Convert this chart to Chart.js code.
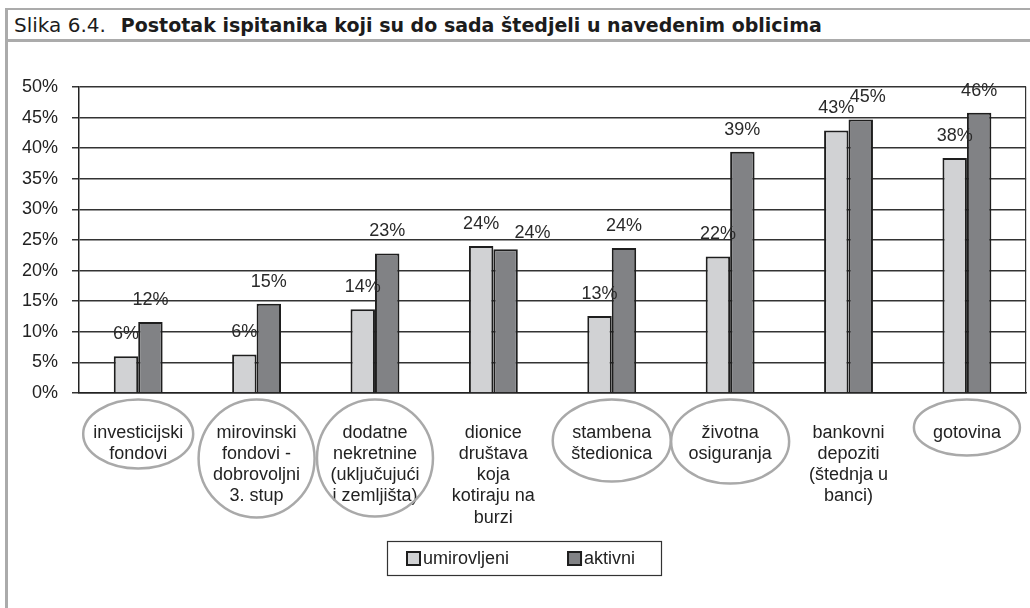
<!DOCTYPE html>
<html>
<head>
<meta charset="utf-8">
<title>Slika 6.4.</title>
<script src="https://cdn.jsdelivr.net/npm/chart.js@4.4.1/dist/chart.umd.min.js"></script>
<style>
  html, body { margin: 0; padding: 0; background: #fff; }
  body { width: 1030px; height: 608px; position: relative; overflow: hidden; }
  .rule { position: absolute; background: #ababab; }
  #title { position: absolute; left: 14px; top: 12px; height: 29px; line-height: 29px; white-space: nowrap; color: #1c1c1c; }
  #title .num { font: 20px "DejaVu Sans", sans-serif; }
  #title b { font: bold 19px "DejaVu Sans", sans-serif; margin-left: 15px; }
  #chart { position: absolute; left: 8px; top: 42px; }
</style>
</head>
<body>
<div class="rule" style="left:5px; top:8px; width:1025px; height:2px;"></div>
<div class="rule" style="left:5px; top:8px; width:3px; height:600px;"></div>
<div class="rule" style="left:5px; top:39px; width:1025px; height:3px;"></div>
<div id="title"><span class="num">Slika 6.4.</span><b>Postotak ispitanika koji su do sada štedjeli u navedenim oblicima</b></div>
<canvas id="chart" width="1022" height="566"></canvas>

<script>
// categories (multi-line labels as in the original)
const categories = [
  ['investicijski', 'fondovi'],
  ['mirovinski', 'fondovi -', 'dobrovoljni', '3. stup'],
  ['dodatne', 'nekretnine', '(uključujući', 'i zemljišta)'],
  ['dionice', 'društava', 'koja', 'kotiraju na', 'burzi'],
  ['stambena', 'štedionica'],
  ['životna', 'osiguranja'],
  ['bankovni', 'depoziti', '(štednja u', 'banci)'],
  ['gotovina']
];

const seriesNames = ['umirovljeni', 'aktivni'];

// percentages
const umirovljeni = [6.0, 6.3, 13.7, 24.0, 12.6, 22.3, 42.9, 38.4];
const aktivni = [11.6, 14.6, 22.8, 23.5, 23.7, 39.4, 44.7, 45.8];

const yMin = 0;
const yMax = 50;
const yStep = 5;

// which category labels are circled in the original (ellipse radii)
const circled = [
  { index: 0, rx: 55, ry: 34.5 },
  { index: 1, rx: 58, ry: 59 },
  { index: 2, rx: 58, ry: 58.5 },
  { index: 4, rx: 59, ry: 41 },
  { index: 5, rx: 59, ry: 42 },
  { index: 7, rx: 53, ry: 28 }
];

// a couple of data labels were moved by hand in the original
const labelNudge = { '1-3': [27, 6], '1-6': [7, 0] };

Chart.defaults.font.family = '"Liberation Sans", Arial, sans-serif';
Chart.defaults.font.size = 18;
Chart.defaults.color = '#222';

const barLabels = {
  id: 'barLabels',
  afterDatasetsDraw(chart) {
    const ctx = chart.ctx;
    ctx.save();
    ctx.font = '18px "Liberation Sans", Arial, sans-serif';
    ctx.fillStyle = '#2a2a2a';
    ctx.textAlign = 'center';
    ctx.textBaseline = 'middle';
    chart.data.datasets.forEach((ds, di) => {
      chart.getDatasetMeta(di).data.forEach((bar, i) => {
        const nudge = labelNudge[di + '-' + i] || [0, 0];
        ctx.fillText(Math.round(ds.data[i]) + '%', bar.x + nudge[0], bar.y - 22 + nudge[1]);
      });
    });
    ctx.restore();
  }
};

const extras = {
  id: 'extras',
  afterDraw(chart) {
    const ctx = chart.ctx;
    const area = chart.chartArea;
    const xScale = chart.scales.x;
    ctx.save();

    // right border of the plot
    ctx.strokeStyle = '#333';
    ctx.lineWidth = 1.2;
    ctx.beginPath();
    ctx.moveTo(area.right - 0.5, area.top);
    ctx.lineTo(area.right - 0.5, area.bottom);
    ctx.stroke();

    // ellipses round some category labels
    ctx.strokeStyle = '#a9a9a9';
    ctx.lineWidth = 2.5;
    circled.forEach(c => {
      const cx = xScale.getPixelForValue(c.index);
      const cy = area.bottom + 6.5 + c.ry;
      ctx.beginPath();
      ctx.ellipse(cx, cy, c.rx, c.ry, 0, 0, Math.PI * 2);
      ctx.stroke();
    });

    // legend in a box
    const box = { x: 379, y: 499, w: 274, h: 34 };
    ctx.strokeStyle = '#333';
    ctx.lineWidth = 1.2;
    ctx.strokeRect(box.x + 0.5, box.y + 0.5, box.w, box.h);
    ctx.font = '18px "Liberation Sans", Arial, sans-serif';
    ctx.textAlign = 'left';
    ctx.textBaseline = 'middle';
    let x = box.x + 19;
    chart.data.datasets.forEach(ds => {
      ctx.fillStyle = ds.backgroundColor;
      ctx.fillRect(x, box.y + 10, 15, 15);
      ctx.strokeStyle = ds.borderColor;
      ctx.lineWidth = 2;
      ctx.strokeRect(x + 1, box.y + 11, 13, 13);
      ctx.fillStyle = '#222';
      ctx.fillText(ds.label, x + 17, box.y + 18);
      x += 17 + ctx.measureText(ds.label).width + 58;
    });
    ctx.restore();
  }
};

new Chart(document.getElementById('chart'), {
  type: 'bar',
  data: {
    labels: categories,
    datasets: [
      {
        label: seriesNames[0],
        data: umirovljeni,
        backgroundColor: '#d1d2d4',
        borderColor: '#1e1e1e',
        borderWidth: 2,
        categoryPercentage: 0.413,
        barPercentage: 1.0
      },
      {
        label: seriesNames[1],
        data: aktivni,
        backgroundColor: '#818285',
        borderColor: '#1e1e1e',
        borderWidth: 2,
        categoryPercentage: 0.413,
        barPercentage: 1.0
      }
    ]
  },
  options: {
    responsive: false,
    animation: false,
    devicePixelRatio: 1,
    layout: { padding: { top: 45, right: 1, left: 0, bottom: 0 } },
    plugins: {
      legend: { display: false },
      tooltip: { enabled: false }
    },
    scales: {
      x: {
        grid: { display: false, drawTicks: false },
        border: { display: true, color: '#222', width: 1.5 },
        ticks: {
          autoSkip: false,
          maxRotation: 0,
          minRotation: 0,
          padding: 29,
          color: '#222',
          font: { size: 18, lineHeight: 1.18 }
        },
        afterFit(scale) { scale.height = 215; }
      },
      y: {
        min: yMin,
        max: yMax,
        grid: { color: '#333', lineWidth: 1.5, tickLength: 7, drawTicks: true },
        border: { display: true, color: '#222', width: 1.5 },
        ticks: {
          stepSize: yStep,
          padding: 14,
          color: '#222',
          font: { size: 18 },
          callback: v => v + '%'
        },
        afterFit(scale) { scale.width = 71; }
      }
    }
  },
  plugins: [barLabels, extras]
});
</script>
</body>
</html>
